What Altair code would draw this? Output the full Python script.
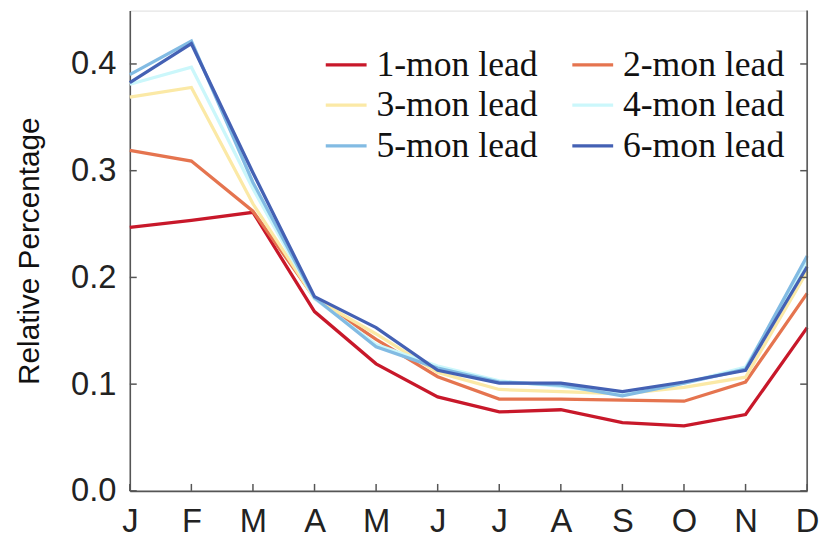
import altair as alt
import pandas as pd

months = ["J", "F", "M", "A", "M", "J", "J", "A", "S", "O", "N", "D"]
series_names = ["1-mon lead", "2-mon lead", "3-mon lead", "4-mon lead", "5-mon lead", "6-mon lead"]
colors = ["#c8182a", "#e5744f", "#fbe9a6", "#cbf7fb", "#82bbe3", "#4461b4"]

lead1 = [0.247, 0.2535, 0.261, 0.168, 0.119, 0.088, 0.074, 0.076, 0.064, 0.061, 0.0715, 0.153]
lead2 = [0.319, 0.309, 0.262, 0.181, 0.142, 0.107, 0.086, 0.086, 0.085, 0.084, 0.102, 0.185]
lead3 = [0.369, 0.378, 0.269, 0.180, 0.147, 0.111, 0.095, 0.093, 0.091, 0.097, 0.1065, 0.2055]
lead4 = [0.381, 0.397, 0.283, 0.180, 0.137, 0.117, 0.103, 0.098, 0.091, 0.101, 0.116, 0.215]
lead5 = [0.390, 0.4215, 0.289, 0.181, 0.135, 0.115, 0.102, 0.099, 0.089, 0.101, 0.114, 0.220]
lead6 = [0.3825, 0.419, 0.298, 0.182, 0.153, 0.113, 0.101, 0.101, 0.093, 0.102, 0.113, 0.210]

y_ticks = [0.0, 0.1, 0.2, 0.3, 0.4]

all_series = [lead1, lead2, lead3, lead4, lead5, lead6]
rows = []
for name, vals in zip(series_names, all_series):
    for i, v in enumerate(vals):
        rows.append({"m": i, "value": v, "series": name})
df = pd.DataFrame(rows)

# legend laid out column-major with 3 rows: reorder so rows read 1-2, 3-4, 5-6
legend_order = [0, 2, 4, 1, 3, 5]
dom = [series_names[i] for i in legend_order]
rng = [colors[i] for i in legend_order]

W, H = 684, 485
AX = "#555555"
label_expr = "[" + ",".join("'%s'" % m for m in months) + "][datum.value]"

xscale = alt.Scale(domain=[0, 11], nice=False, zero=False)
yscale = alt.Scale(domain=[0, 0.45], nice=False)

x_axis = alt.Axis(values=list(range(12)), labelExpr=label_expr, title=None,
                  ticks=False, grid=False, domainColor=AX, domainWidth=1.6,
                  labelFont="Liberation Sans", labelFontSize=33, labelColor="#222",
                  labelPadding=15, labelFlush=False)
y_axis = alt.Axis(values=y_ticks, format=".1f", title="Relative Percentage",
                  ticks=False, grid=False, domainColor=AX, domainWidth=1.6,
                  labelFont="Liberation Sans", labelFontSize=33, labelColor="#222",
                  labelPadding=14, titleFont="Liberation Sans", titleFontSize=30,
                  titleFontWeight="normal", titleColor="#111", titlePadding=26)

lines = alt.Chart(df).mark_line(strokeWidth=3.3).encode(
    x=alt.X("m:Q", scale=xscale, axis=x_axis),
    y=alt.Y("value:Q", scale=yscale, axis=y_axis),
    color=alt.Color("series:N",
                    scale=alt.Scale(domain=dom, range=rng),
                    legend=alt.Legend(title=None, orient="none", legendX=196, legendY=32,
                                      columns=2, symbolType="stroke", symbolSize=1700,
                                      symbolStrokeWidth=3.3, labelFont="Liberation Serif",
                                      labelFontSize=36, labelColor="#111", labelLimit=400,
                                      labelOffset=8, columnPadding=28, rowPadding=0,
                                      padding=0)),
)

tick_df = pd.DataFrame({"value": y_ticks})
left_ticks = alt.Chart(tick_df).mark_rule(color=AX, strokeWidth=1.5).encode(
    y=alt.Y("value:Q", scale=yscale, axis=y_axis), x=alt.value(0), x2=alt.value(7))
right_ticks = alt.Chart(tick_df).mark_rule(color=AX, strokeWidth=1.5).encode(
    y=alt.Y("value:Q", scale=yscale, axis=y_axis), x=alt.value(W - 7), x2=alt.value(W))

mdf = pd.DataFrame({"m": list(range(12))})
bottom_ticks = alt.Chart(mdf).mark_rule(color=AX, strokeWidth=1.5).encode(
    x=alt.X("m:Q", scale=xscale, axis=x_axis), y=alt.value(H - 7), y2=alt.value(H))

right_spine = alt.Chart(pd.DataFrame({"a": [0]})).mark_rule(color=AX, strokeWidth=1.6).encode(
    x=alt.value(W), y=alt.value(0), y2=alt.value(H))

chart = alt.layer(lines, left_ticks, right_ticks, bottom_ticks, right_spine).properties(
    width=W, height=H,
    autosize=alt.AutoSizeParams(type="none"),
    padding={"left": 123, "top": 0, "right": 14, "bottom": 49},
).configure_view(strokeWidth=0).configure(background="white")

chart.save("out.html", embed_options={"renderer": "svg", "actions": False})
